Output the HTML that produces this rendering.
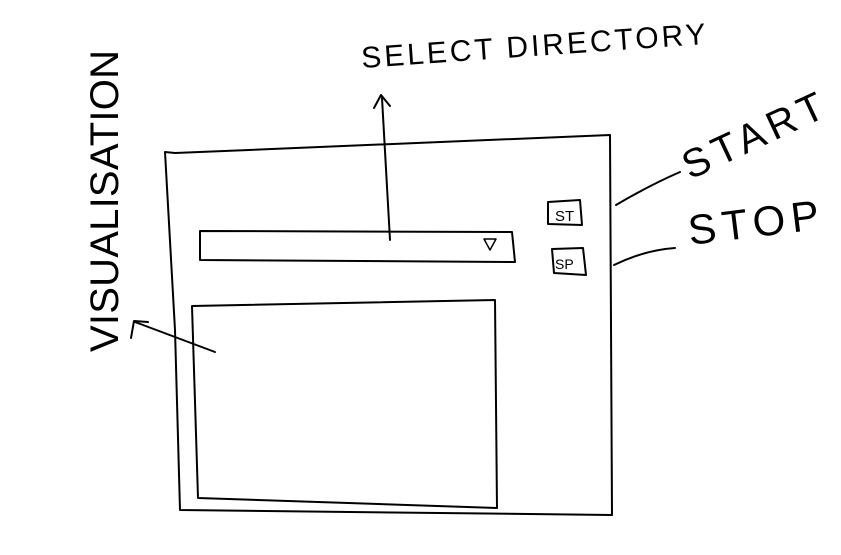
<!DOCTYPE html>
<html><head><meta charset="utf-8"><style>
html,body{margin:0;padding:0;background:#fff;width:841px;height:555px;overflow:hidden}
svg{display:block}
path,polyline,polygon{fill:none;stroke:#000;stroke-width:2;stroke-linecap:round;stroke-linejoin:round}
text{font-family:"Liberation Sans",sans-serif;fill:#000;font-weight:normal}
</style></head><body>
<svg width="841" height="555" viewBox="0 0 841 555">
  <g>
    <path d="M165 152 L175 153 L610 135 L612 515 L180 510 L175 330 L165 152"/>
  </g>
  <g>
    <path d="M200 231 L512 232 L515 262 L200 260 Z"/>
    <polygon points="484,239 496,239 490,250" style="stroke-width:1.5"/>
  </g>
  <g>
    <path d="M390 240 L382 98"/>
    <path d="M374 108 L381 95 L390 106"/>
  </g>
  <text x="362" y="68" font-size="30" letter-spacing="3" transform="rotate(-4 362 68)">SELECT DIRECTORY</text>
  <g>
    <path d="M192 306 L495 300 L497 508 L198 498 L192 306"/>
  </g>
  <g>
    <path d="M215 352 L135 322"/>
    <path d="M131 338 L134 321 L148 322"/>
  </g>
  <text x="0" y="0" font-size="40" letter-spacing="3" textLength="305" lengthAdjust="spacing" transform="translate(118 352) rotate(-90)">VISUALISATION</text>
  <g>
    <path d="M548 202 L580 200 L582 225 L548 224 Z"/>
    <text x="555" y="221" font-size="15">ST</text>
  </g>
  <g>
    <path d="M552 249 L583 248 L586 275 L554 273 Z"/>
    <text x="555" y="269" font-size="14">SP</text>
  </g>
  <path d="M616 205 Q650 185 680 172"/>
  <path d="M614 265 Q645 250 675 248"/>
  <text x="690" y="180" font-size="40" letter-spacing="6" transform="rotate(-25 690 180)">START</text>
  <text x="690" y="245" font-size="42" letter-spacing="6" transform="rotate(-7 690 245)">STOP</text>
</svg>
</body></html>
